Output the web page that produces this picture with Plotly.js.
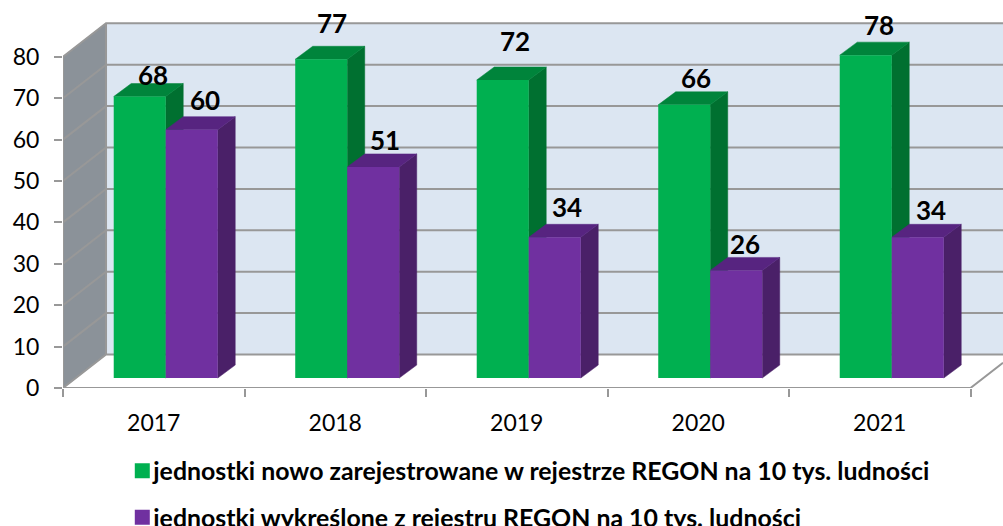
<!DOCTYPE html>
<html>
<head>
<meta charset="utf-8">
<script src="https://cdn.plot.ly/plotly-3.0.1.min.js"></script>
<style>html,body{margin:0;padding:0;background:#fff}#chart{width:1003px;height:526px}</style>
</head>
<body>
<div id="chart"></div>
<script>
const years = ['2017', '2018', '2019', '2020', '2021'];
const newUnits = [68, 77, 72, 66, 78];
const removedUnits = [60, 51, 34, 26, 34];
const newName = 'jednostki nowo zarejestrowane w rejestrze REGON na 10 tys. ludności';
const removedName = 'jednostki wykreślone z rejestru REGON na 10 tys. ludności';
const yTicks = [0, 10, 20, 30, 40, 50, 60, 70, 80];

// pixel shifts of the value labels relative to the front-top centre of each bar
const newLabelDx = [13, 11, 12, 12, 13];
const newLabelDy = [22, 36, 39, 27, 30];
const removedLabelDx = [13, 12, 12, 9, 13];
const removedLabelDy = [30, 27, 30, 26, 27];

// geometry of the pseudo-3D frame, in axis units
const xMin = -0.5, xMax = 4.679, yMax = 91.3;
const wallDx = 0.237, wallDy = 8.09;
const barW = 0.2865, barShift = 0.066, barBase = 2.4;
const barDx = 0.0964, barDy = 3.14;
const plotBottom = 138 / 516;

const GRID = '#989898', WALL = '#dce6f2', SIDE = '#8b9299';
const GREEN = '#00b050', GREEN_SIDE = '#007030', GREEN_TOP = '#00843b';
const PURPLE = '#7030a0', PURPLE_SIDE = '#4a2068', PURPLE_TOP = '#572480';

function poly(xs, ys, fill) {
  return {type: 'scatter', mode: 'lines', x: xs.concat(xs[0]), y: ys.concat(ys[0]),
    fill: 'toself', fillcolor: fill, line: {color: fill, width: 0.5},
    showlegend: false, hoverinfo: 'skip', xaxis: 'x', yaxis: 'y'};
}
function path(xs, ys, w) {
  return {type: 'scatter', mode: 'lines', x: xs, y: ys, connectgaps: false,
    line: {color: GRID, width: w}, showlegend: false, hoverinfo: 'skip', xaxis: 'x', yaxis: 'y'};
}

const traces = [];
// walls
traces.push(poly([xMin + wallDx, xMax, xMax, xMin + wallDx],
                 [wallDy, wallDy, 80 + wallDy, 80 + wallDy], WALL));
traces.push(poly([xMin, xMin + wallDx, xMin + wallDx, xMin],
                 [0, wallDy, 80 + wallDy, 80], SIDE));
// gridlines along the side wall and the back wall
const gx = [], gy = [];
yTicks.forEach(v => {
  gx.push(xMin, xMin + wallDx, xMax, null);
  gy.push(v, v + wallDy, v + wallDy, null);
});
traces.push(path(gx, gy, 2));
// frame lines
traces.push(path([xMin, xMin, null, xMin + wallDx, xMin + wallDx],
                 [0, 80, null, wallDy, 80 + wallDy], 2));
const floorEnd = xMin + years.length;
traces.push(path([xMin, floorEnd, xMax], [0, 0, wallDy * (xMax - floorEnd) / wallDx], 2));

// side and top faces of every bar
function faces(values, offset, sideColor, topColor) {
  values.forEach((v, i) => {
    const x0 = i + offset, x1 = x0 + barW, top = barBase + v;
    traces.push(poly([x1, x1, x1 + barDx, x1 + barDx],
                     [barBase, top, top + barDy, barBase + barDy], sideColor));
    traces.push(poly([x0, x1, x1 + barDx, x0 + barDx],
                     [top, top, top + barDy, top + barDy], topColor));
  });
}
faces(newUnits, barShift - barW, GREEN_SIDE, GREEN_TOP);
faces(removedUnits, barShift, PURPLE_SIDE, PURPLE_TOP);

// front faces
function bars(name, values, offset, color) {
  return {type: 'bar', name: name, x: years, y: values,
    base: values.map(() => barBase), width: barW, offset: offset,
    marker: {color: color, line: {width: 0}},
    legendgroup: name, hoverinfo: 'skip', xaxis: 'x2', yaxis: 'y2'};
}
traces.push(bars(newName, newUnits, barShift - barW, GREEN));
traces.push(bars(removedName, removedUnits, barShift, PURPLE));

function labels(values, offset, dx, dy) {
  return values.map((v, i) => ({
    xref: 'x', yref: 'y', x: i + offset + barW / 2, y: barBase + v,
    xshift: dx[i], yshift: dy[i], text: String(v), showarrow: false,
    xanchor: 'center', yanchor: 'middle',
    font: {family: 'Lato', size: 26, color: '#000', weight: 700}
  }));
}

const layout = {
  width: 1003, height: 526,
  margin: {l: 63, r: 0, t: 10, b: 0, pad: 0, autoexpand: false},
  paper_bgcolor: '#fff', plot_bgcolor: 'rgba(0,0,0,0)',
  barmode: 'overlay',
  font: {family: 'Lato', color: '#000'},
  showlegend: true,
  legend: {
    x: 0.0535, y: 0.151,
    xanchor: 'left', yanchor: 'top', orientation: 'v',
    tracegroupgap: 11, traceorder: 'grouped',
    bgcolor: 'rgba(0,0,0,0)', itemclick: false, itemdoubleclick: false,
    font: {family: 'Lato', size: 24.9, color: '#000', weight: 700}
  },
  xaxis: {type: 'linear', range: [xMin, xMax], visible: false, fixedrange: true},
  yaxis: {
    type: 'linear', domain: [plotBottom, 1], range: [0, yMax], tickmode: 'array', tickvals: yTicks,
    ticks: 'outside', ticklen: 8, tickwidth: 2, tickcolor: GRID,
    showgrid: false, zeroline: false, showline: false, ticklabelstandoff: 10,
    tickfont: {family: 'Lato', size: 23, color: '#000'}, fixedrange: true
  },
  xaxis2: {
    type: 'category', overlaying: 'x', anchor: 'y2', side: 'bottom',
    categoryorder: 'array', categoryarray: years, range: [xMin, xMax],
    tickson: 'boundaries', ticks: 'outside', ticklen: 8, tickwidth: 2, tickcolor: GRID,
    showgrid: false, zeroline: false, showline: false, ticklabelstandoff: 19, tickangle: 0,
    tickfont: {family: 'Lato', size: 23, color: '#000'}, fixedrange: true
  },
  yaxis2: {type: 'linear', overlaying: 'y', anchor: 'x2', domain: [plotBottom, 1], range: [0, yMax], visible: false, fixedrange: true},
  annotations: labels(newUnits, barShift - barW, newLabelDx, newLabelDy)
    .concat(labels(removedUnits, barShift, removedLabelDx, removedLabelDy))
};

const gd = document.getElementById('chart');
Plotly.newPlot(gd, traces, layout, {displayModeBar: false, staticPlot: true}).then(() => {
  // legend swatches in the reference are larger and sit closer to their text
  gd.querySelectorAll('.legend .legendsymbols').forEach(s => {
    s.setAttribute('transform', 'translate(9,0) scale(1)');
    s.querySelectorAll('path').forEach(p => { p.setAttribute('d', 'M7.5,7.5H-7.5V-7.5H7.5Z'); });
  });
});
</script>
</body>
</html>
